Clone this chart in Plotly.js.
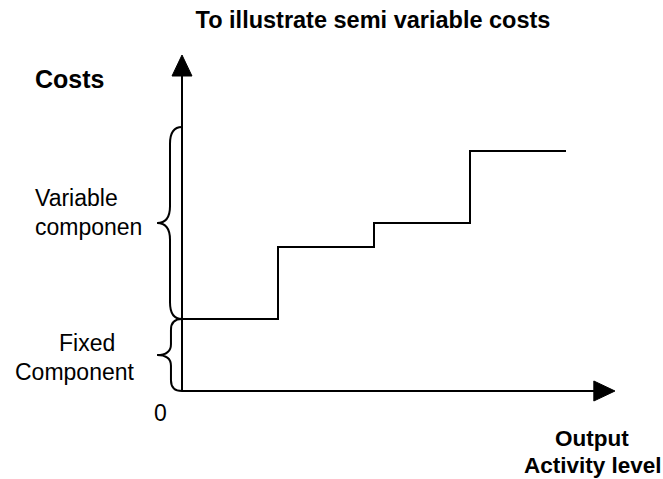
<!DOCTYPE html>
<html>
<head>
<meta charset="utf-8">
<script src="https://cdn.plot.ly/plotly-3.0.1.min.js"></script>
<style>
html,body{margin:0;padding:0;background:#fff;}
#chart{width:663px;height:479px;}
</style>
</head>
<body>
<div id="chart"></div>
<script>
// Data: output activity level vs. semi-variable cost (step function)
const output = [0, 1, 2, 3, 4];
const costs = [3, 6, 7, 10, 10];
const fixedCost = 3;
const titleText = "To illustrate semi variable costs";
const yLabel = "Costs";
const xLabelLines = ["Output", "Activity level"];
const variableLabel = ["Variable", "componen"];
const fixedLabel = ["Fixed", "Component"];
const originLabel = "0";

const W = 663, H = 479;
// pixel helpers for text placement (paper coordinates)
const px = v => v / W;
const py = v => 1 - v / H;

const FONT = "Liberation Sans, Arial, sans-serif";

const trace = {
  x: output,
  y: costs,
  type: "scatter",
  mode: "lines",
  line: {shape: "hv", color: "#000", width: 2},
  hoverinfo: "skip",
  showlegend: false
};

function brace(xTip, xMid, top, bot, r) {
  const mid = (top + bot) / 2;
  return `M 0,${top} Q ${xMid},${top} ${xMid},${top - r} L ${xMid},${mid + r} ` +
         `Q ${xMid},${mid} ${xTip},${mid} Q ${xMid},${mid} ${xMid},${mid - r} ` +
         `L ${xMid},${bot + r} Q ${xMid},${bot} 0,${bot}`;
}

const shapes = [
  // y axis
  {type: "line", xref: "x", yref: "y", x0: 0, x1: 0, y0: 0, y1: 13.2, line: {color: "#000", width: 2}},
  // x axis
  {type: "line", xref: "x", yref: "y", x0: 0, x1: 4.3, y0: 0, y1: 0, line: {color: "#000", width: 2}},
  // arrowheads
  {type: "path", xref: "x", yref: "y", path: "M -0.104,13.125 L 0.104,13.125 L 0,14 Z", fillcolor: "#000", line: {color: "#000", width: 1}},
  {type: "path", xref: "x", yref: "y", path: "M 4.29,0.417 L 4.29,-0.417 L 4.51,0 Z", fillcolor: "#000", line: {color: "#000", width: 1}},
  // braces
  {type: "path", xref: "x", yref: "y", path: brace(-0.26, -0.125, 11, fixedCost, 0.7), line: {color: "#000", width: 2}},
  {type: "path", xref: "x", yref: "y", path: brace(-0.26, -0.115, fixedCost, 0, 0.45), line: {color: "#000", width: 2}}
];

function ann(text, x, y, opts) {
  return Object.assign({
    text: text, xref: "paper", yref: "paper", x: px(x), y: py(y),
    xanchor: "center", yanchor: "middle", showarrow: false,
    font: {family: FONT, size: 23, color: "#000"}
  }, opts || {});
}

const annotations = [
  ann("<b>" + yLabel + "</b>", 33, 79, {xanchor: "left", font: {family: FONT, size: 25, color: "#000"}}),
  ann(variableLabel[0], 33, 198, {xanchor: "left"}),
  ann(variableLabel[1], 33, 227, {xanchor: "left"}),
  ann(fixedLabel[0], 87, 343),
  ann(fixedLabel[1], 75, 372),
  ann(originLabel, 160, 413),
  ann("<b>" + xLabelLines[0] + "</b>", 592, 438, {font: {family: FONT, size: 22.5, color: "#000"}}),
  ann("<b>" + xLabelLines[1] + "</b>", 593, 465, {font: {family: FONT, size: 22.5, color: "#000"}})
];

const layout = {
  width: W, height: H,
  margin: {l: 0, r: 0, t: 0, b: 0, pad: 0},
  paper_bgcolor: "#fff", plot_bgcolor: "#fff",
  title: {text: "<b>" + titleText + "</b>", x: px(373), xanchor: "center", xref: "paper",
          y: py(20), yanchor: "middle", yref: "container",
          font: {family: FONT, size: 23.5, color: "#000"}},
  xaxis: {range: [-182 / 96, (W - 182) / 96], visible: false, fixedrange: true},
  yaxis: {range: [(391 - H) / 24, 391 / 24], visible: false, fixedrange: true},
  shapes: shapes,
  annotations: annotations,
  showlegend: false
};

Plotly.newPlot("chart", [trace], layout, {displayModeBar: false, staticPlot: true});
</script>
</body>
</html>
